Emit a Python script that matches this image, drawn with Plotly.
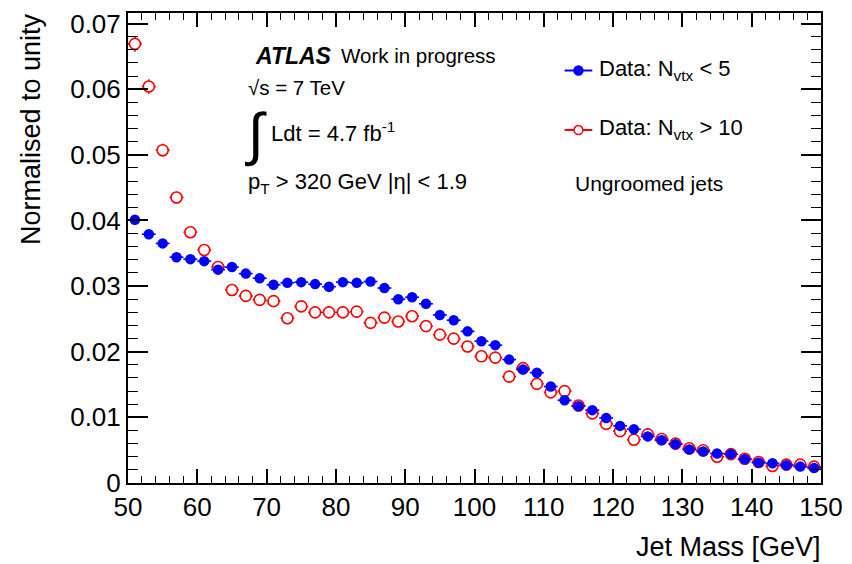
import plotly.graph_objects as go

# ---------------- data ----------------
mass = [51, 53, 55, 57, 59, 61, 63, 65, 67, 69, 71, 73, 75, 77, 79, 81, 83, 85, 87, 89,
        91, 93, 95, 97, 99, 101, 103, 105, 107, 109, 111, 113, 115, 117, 119, 121, 123, 125, 127, 129,
        131, 133, 135, 137, 139, 141, 143, 145, 147, 149]

low_pu = [0.0401, 0.0379, 0.0365, 0.0344, 0.0341, 0.0338, 0.0325, 0.0329, 0.0319, 0.0312,
          0.0302, 0.0305, 0.0306, 0.0303, 0.0299, 0.0306, 0.0305, 0.0307, 0.0297, 0.0280,
          0.0283, 0.0273, 0.0256, 0.0248, 0.0231, 0.0216, 0.0210, 0.0188, 0.0173, 0.0168,
          0.0147, 0.0126, 0.0117, 0.0111, 0.0099, 0.0087, 0.0082, 0.0071, 0.0065, 0.0059,
          0.0051, 0.0048, 0.0045, 0.0044, 0.0036, 0.0031, 0.0030, 0.0027, 0.0025, 0.0023]

high_pu = [0.0669, 0.0604, 0.0507, 0.0435, 0.0382, 0.0355, 0.0329, 0.0294, 0.0285, 0.0279,
           0.0277, 0.0251, 0.0269, 0.0260, 0.0260, 0.0260, 0.0261, 0.0244, 0.0252, 0.0246,
           0.0254, 0.0239, 0.0226, 0.0220, 0.0208, 0.0193, 0.0191, 0.0162, 0.0175, 0.0151,
           0.0138, 0.0140, 0.0118, 0.0106, 0.0090, 0.0079, 0.0066, 0.0074, 0.0067, 0.0060,
           0.0053, 0.0050, 0.0040, 0.0044, 0.0037, 0.0032, 0.0026, 0.0028, 0.0028, 0.0025]

low_pu_err = [0.0003, 0.0003, 0.0003, 0.0003, 0.0003, 0.0003, 0.0003, 0.0003, 0.0003, 0.0003,
              0.0003, 0.0003, 0.0003, 0.0003, 0.0003, 0.0003, 0.0003, 0.0003, 0.0003, 0.0003,
              0.0002, 0.0002, 0.0002, 0.0002, 0.0002, 0.0002, 0.0002, 0.0002, 0.0002, 0.0002,
              0.0002, 0.0002, 0.0002, 0.0002, 0.0002, 0.0002, 0.0002, 0.0001, 0.0001, 0.0001,
              0.0001, 0.0001, 0.0001, 0.0001, 0.0001, 0.0001, 0.0001, 0.0001, 0.0001, 0.0001]

high_pu_err = [0.0012, 0.0011, 0.0010, 0.0009, 0.0008, 0.0008, 0.0007, 0.0007, 0.0007, 0.0007,
               0.0007, 0.0006, 0.0006, 0.0006, 0.0006, 0.0006, 0.0006, 0.0006, 0.0006, 0.0006,
               0.0006, 0.0006, 0.0006, 0.0005, 0.0005, 0.0005, 0.0005, 0.0005, 0.0005, 0.0005,
               0.0004, 0.0004, 0.0004, 0.0004, 0.0004, 0.0004, 0.0003, 0.0003, 0.0003, 0.0003,
               0.0003, 0.0003, 0.0003, 0.0003, 0.0003, 0.0002, 0.0002, 0.0002, 0.0002, 0.0002]

bin_half_width = [1.0] * len(mass)

x_ticks = [50, 60, 70, 80, 90, 100, 110, 120, 130, 140, 150]
y_ticks = [0, 0.01, 0.02, 0.03, 0.04, 0.05, 0.06, 0.07]
y_tick_text = ["0", "0.01", "0.02", "0.03", "0.04", "0.05", "0.06", "0.07"]

BLUE = "#0000ff"
RED = "#ff0000"
FONT = "Liberation Sans, Arial, Helvetica, sans-serif"

W, H = 852, 564
L, R, T, B = 128, 24, 9, 81
PW, PH = W - L - R, H - T - B


def px(X):
    return (X - L) / PW


def py(Y):
    return (H - B - Y) / PH


fig = go.Figure()

fig.add_trace(go.Scatter(
    x=mass, y=high_pu, mode="markers", name="Data: N_vtx > 10",
    marker=dict(symbol="circle", size=11, color="white", line=dict(width=1.6, color=RED)),
    error_x=dict(type="data", array=bin_half_width, color=RED, thickness=1.6, width=0),
    error_y=dict(type="data", array=high_pu_err, color=RED, thickness=1.6, width=0),
    showlegend=False,
))
fig.add_trace(go.Scatter(
    x=mass, y=low_pu, mode="markers", name="Data: N_vtx < 5",
    marker=dict(symbol="circle", size=10.5, color=BLUE),
    error_x=dict(type="data", array=bin_half_width, color=BLUE, thickness=1.6, width=0),
    error_y=dict(type="data", array=low_pu_err, color=BLUE, thickness=1.6, width=0),
    showlegend=False,
))

annotations = []


def text(X, Y, s, size=20, anchor="left"):
    annotations.append(dict(
        x=px(X), y=py(Y), xref="paper", yref="paper", text=s, showarrow=False,
        xanchor=anchor, yanchor="middle", borderpad=0,
        font=dict(family=FONT, size=size, color="black")))


text(255, 52, "<b><i>ATLAS</i></b>", 23)
text(342, 52, "Work in progress", 20.5)
text(248, 84, "√s = 7 TeV", 20.5)
text(245, 131, "∫", 58)
text(271, 129, "Ldt = 4.7 fb<sup>-1</sup>", 22)
text(248, 180, "p<sub>T</sub> > 320 GeV |η| < 1.9", 22)
text(603, 66, "Data: N<sub>vtx</sub> < 5", 22)
text(603, 126, "Data: N<sub>vtx</sub> > 10", 22)
text(579, 181, "Ungroomed jets", 21)

# axis titles
annotations.append(dict(x=px(829), y=py(548), xref="paper", yref="paper", text="Jet Mass [GeV]",
                        showarrow=False, xanchor="right", yanchor="middle", borderpad=0,
                        font=dict(family=FONT, size=27, color="black")))
annotations.append(dict(x=px(30), y=py(8), xref="paper", yref="paper", text="Normalised to unity",
                        showarrow=False, xanchor="center", yanchor="top", textangle=-90, borderpad=0,
                        font=dict(family=FONT, size=27, color="black")))

# legend symbols
shapes = []
for Yc, col, filled in [(67, BLUE, True), (127, RED, False)]:
    shapes.append(dict(type="line", xref="paper", yref="paper", x0=px(569), x1=px(597),
                       y0=py(Yc), y1=py(Yc), line=dict(color=col, width=2)))
    r = 4.5
    shapes.append(dict(type="circle", xref="paper", yref="paper",
                       x0=px(583 - r), x1=px(583 + r), y0=py(Yc + r), y1=py(Yc - r),
                       line=dict(color=col, width=1.5), fillcolor=col if filled else "white"))

fig.update_layout(
    width=W, height=H,
    margin=dict(l=L, r=R, t=T, b=B, pad=0),
    paper_bgcolor="white", plot_bgcolor="white",
    font=dict(family=FONT, color="black"),
    annotations=annotations, shapes=shapes,
    showlegend=False,
)

fig.update_xaxes(
    range=[50, 150], tickvals=x_ticks, ticktext=[str(v) for v in x_ticks],
    ticks="inside", ticklen=14, tickwidth=1.5, tickcolor="black",
    minor=dict(dtick=2, ticks="inside", ticklen=7, tickwidth=1.2, tickcolor="black"),
    showline=True, linecolor="black", linewidth=2, mirror="ticks",
    showgrid=False, zeroline=False,
    tickfont=dict(family=FONT, size=26, color="black"),
)
fig.update_yaxes(
    range=[0, 0.0716], tickvals=y_ticks, ticktext=y_tick_text,
    ticks="inside", ticklen=20, tickwidth=1.5, tickcolor="black",
    minor=dict(dtick=0.002, ticks="inside", ticklen=10, tickwidth=1.2, tickcolor="black"),
    showline=True, linecolor="black", linewidth=2, mirror="ticks",
    showgrid=False, zeroline=False,
    tickfont=dict(family=FONT, size=26, color="black"),
)

fig.write_html("out.html")
